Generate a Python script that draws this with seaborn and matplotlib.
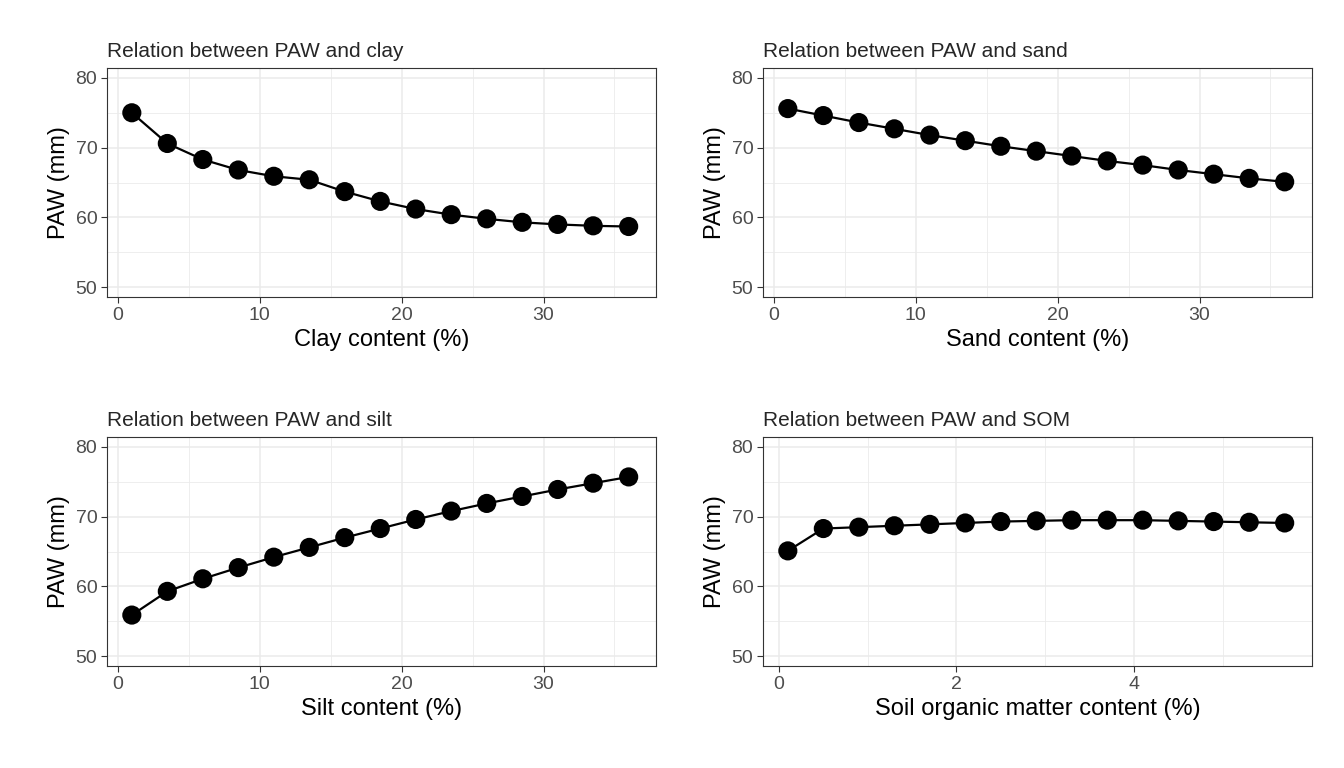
import numpy as np
import pandas as pd
import matplotlib
matplotlib.use("Agg")
import matplotlib.pyplot as plt
import seaborn as sns

sns.set_style("white", {"xtick.bottom": True, "ytick.left": True})
plt.rcParams["font.family"] = ["Liberation Sans", "DejaVu Sans"]

pct_x = [1, 3.5, 6, 8.5, 11, 13.5, 16, 18.5, 21, 23.5, 26, 28.5, 31, 33.5, 36]
som_x = [0.1, 0.5, 0.9, 1.3, 1.7, 2.1, 2.5, 2.9, 3.3, 3.7, 4.1, 4.5, 4.9, 5.3, 5.7]
clay_paw = [75.0, 70.6, 68.3, 66.8, 65.9, 65.4, 63.7, 62.3, 61.2, 60.4, 59.8, 59.3, 59.0, 58.8, 58.7]
sand_paw = [75.6, 74.6, 73.6, 72.7, 71.8, 71.0, 70.2, 69.5, 68.8, 68.1, 67.5, 66.8, 66.2, 65.6, 65.1]
silt_paw = [55.9, 59.3, 61.1, 62.7, 64.2, 65.6, 67.0, 68.3, 69.6, 70.8, 71.9, 72.9, 73.9, 74.8, 75.7]
som_paw = [65.1, 68.3, 68.5, 68.7, 68.9, 69.1, 69.3, 69.4, 69.5, 69.5, 69.5, 69.4, 69.3, 69.2, 69.1]

panels = [
    ("Relation between PAW and clay", "Clay content (%)", pct_x, clay_paw, [0, 10, 20, 30], [5, 15, 25, 35]),
    ("Relation between PAW and sand", "Sand content (%)", pct_x, sand_paw, [0, 10, 20, 30], [5, 15, 25, 35]),
    ("Relation between PAW and silt", "Silt content (%)", pct_x, silt_paw, [0, 10, 20, 30], [5, 15, 25, 35]),
    ("Relation between PAW and SOM", "Soil organic matter content (%)", som_x, som_paw, [0, 2, 4], [1, 3, 5]),
]

fig = plt.figure(figsize=(13.44, 7.68), dpi=100)
lefts = [0.0796, 0.5677]
bottoms = [0.6133, 0.1328]
for i, (title, xlab, x, y, major, minor) in enumerate(panels):
    ax = fig.add_axes([lefts[i % 2], bottoms[i // 2], 0.4085, 0.298])
    df = pd.DataFrame({"x": x, "y": y})
    xr = max(x) - min(x)
    ax.set_xlim(min(x) - 0.05 * xr, max(x) + 0.055 * xr)
    ax.set_ylim(48.6, 81.4)
    ax.set_xticks(major)
    ax.set_xticks(minor, minor=True)
    ax.set_yticks([50, 60, 70, 80])
    ax.set_yticks([55, 65, 75], minor=True)
    ax.grid(True, which="major", color="#EBEBEB", lw=1.1)
    ax.grid(True, which="minor", color="#EBEBEB", lw=0.6)
    ax.set_axisbelow(True)
    sns.lineplot(data=df, x="x", y="y", ax=ax, color="black", lw=1.6)
    sns.scatterplot(data=df, x="x", y="y", ax=ax, color="black", s=190, edgecolor="none", zorder=3)
    for s in ax.spines.values():
        s.set_color("#333333")
        s.set_linewidth(0.8)
    ax.tick_params(which="major", bottom=True, left=True, length=4, width=0.8, color="#333333",
                   labelsize=14, labelcolor="#4D4D4D", pad=3)
    ax.tick_params(which="minor", length=0)
    ax.set_xlabel(xlab, fontsize=17, color="black", labelpad=4)
    ax.set_ylabel("PAW (mm)", fontsize=17, color="black", labelpad=4)
    ax.set_title(title, loc="left", fontsize=15, pad=8)

fig.savefig("out.png", dpi=100)
